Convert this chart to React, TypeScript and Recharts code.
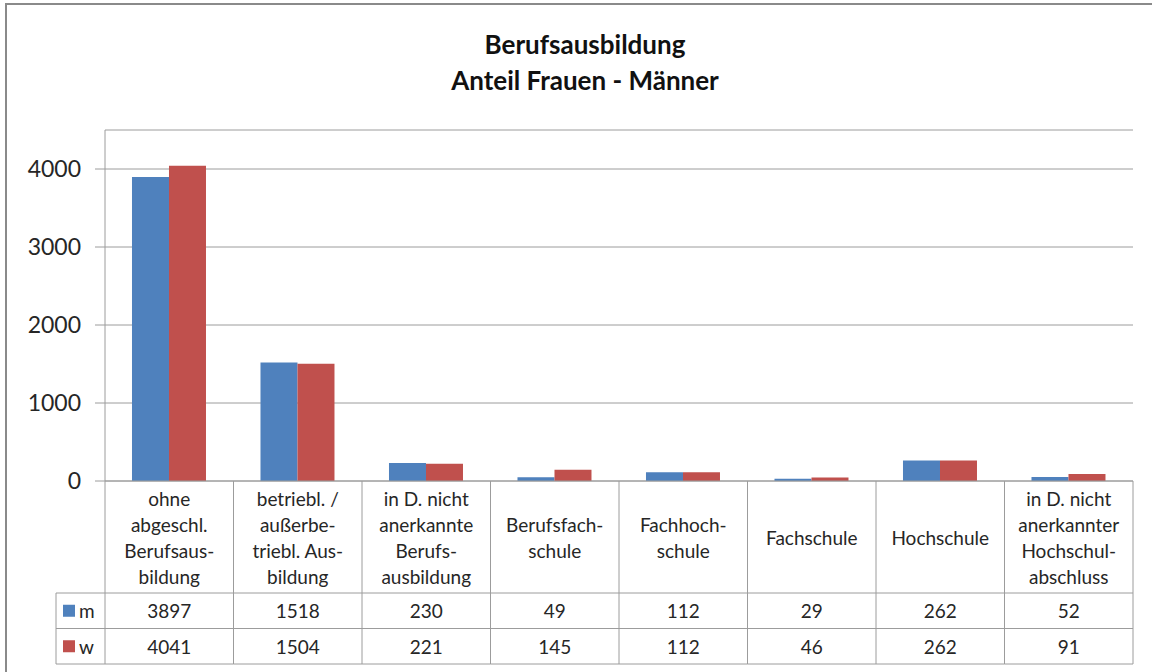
import { BarChart, Bar, XAxis, YAxis, CartesianGrid } from "recharts";

const categoryLines: string[][] = [
  ["ohne", "abgeschl.", "Berufsaus-", "bildung"],
  ["betriebl. /", "außerbe-", "triebl. Aus-", "bildung"],
  ["in D. nicht", "anerkannte", "Berufs-", "ausbildung"],
  ["Berufsfach-", "schule"],
  ["Fachhoch-", "schule"],
  ["Fachschule"],
  ["Hochschule"],
  ["in D. nicht", "anerkannter", "Hochschul-", "abschluss"],
];
const men = [3897, 1518, 230, 49, 112, 29, 262, 52];
const women = [4041, 1504, 221, 145, 112, 46, 262, 91];
const yTicks = [0, 1000, 2000, 3000, 4000];
const seriesNames = ["m", "w"];
const titleLines = ["Berufsausbildung", "Anteil Frauen - Männer"];

const data = categoryLines.map((lines, i) => ({
  name: lines.join(" "),
  m: men[i],
  w: women[i],
}));

const W = 1152;
const H = 672;
const PLOT_LEFT = 105;
const PLOT_RIGHT = 1133;
const BAND = (PLOT_RIGHT - PLOT_LEFT) / categoryLines.length;
const HEADER_H = 112;
const ROW_H = 35.5;
const LEGEND_LEFT = 56;

const FONT = "Lato, 'Open Sans', sans-serif";
const LINE = "#9c9c9c";
const TEXT = "#262626";
const BLUE = "#4F81BD";
const RED = "#C0504D";
const TABLE_FS = 19;

function TableTick(props: any) {
  const { x, y, payload } = props;
  const i = payload.index as number;
  const left = x - BAND / 2;
  const right = x + BAND / 2;
  const headBottom = y + HEADER_H;
  const r1 = headBottom + ROW_H;
  const r2 = r1 + ROW_H;
  const lines = categoryLines[i];
  const lh = 26;
  const y0 = y + HEADER_H / 2 - ((lines.length - 1) * lh) / 2;
  const last = i === categoryLines.length - 1;

  return (
    <g fontFamily={FONT}>
      <line x1={left} y1={y} x2={left} y2={r2} stroke={LINE} />
      {last && <line x1={right} y1={y} x2={right} y2={r2} stroke={LINE} />}
      <line x1={left} y1={headBottom} x2={right} y2={headBottom} stroke={LINE} />
      <line x1={left} y1={r1} x2={right} y2={r1} stroke={LINE} />
      <line x1={left} y1={r2} x2={right} y2={r2} stroke={LINE} />
      {lines.map((t, k) => (
        <text
          key={k}
          x={x}
          y={y0 + k * lh}
          textAnchor="middle"
          dominantBaseline="central"
          fontSize={TABLE_FS}
          fill={TEXT}
        >
          {t}
        </text>
      ))}
      <text x={x} y={headBottom + ROW_H / 2} textAnchor="middle" dominantBaseline="central" fontSize={TABLE_FS} fill={TEXT}>
        {men[i]}
      </text>
      <text x={x} y={r1 + ROW_H / 2} textAnchor="middle" dominantBaseline="central" fontSize={TABLE_FS} fill={TEXT}>
        {women[i]}
      </text>
      {i === 0 && (
        <g>
          <line x1={LEGEND_LEFT} y1={headBottom} x2={left} y2={headBottom} stroke={LINE} />
          <line x1={LEGEND_LEFT} y1={r1} x2={left} y2={r1} stroke={LINE} />
          <line x1={LEGEND_LEFT} y1={r2} x2={left} y2={r2} stroke={LINE} />
          <line x1={LEGEND_LEFT} y1={headBottom} x2={LEGEND_LEFT} y2={r2} stroke={LINE} />
          {[BLUE, RED].map((c, k) => (
            <g key={k}>
              <rect x={63} y={headBottom + k * ROW_H + ROW_H / 2 - 6} width={12} height={12} fill={c} />
              <text
                x={79}
                y={headBottom + k * ROW_H + ROW_H / 2}
                dominantBaseline="central"
                fontSize={TABLE_FS}
                fill={TEXT}
              >
                {seriesNames[k]}
              </text>
            </g>
          ))}
        </g>
      )}
    </g>
  );
}

export default function App() {
  return (
    <div
      style={{
        position: "absolute",
        left: 0,
        top: 0,
        width: W,
        height: H,
        overflow: "hidden",
        background: "#fff",
        fontFamily: FONT,
      }}
    >
      <div
        style={{
          position: "absolute",
          left: 5,
          top: 3,
          width: W + 20,
          height: H + 20,
          border: "2px solid #8a8a8a",
        }}
      />
      <div
        style={{
          position: "absolute",
          left: 0,
          width: 1170,
          top: 26,
          textAlign: "center",
          fontWeight: 700,
          fontSize: 26,
          lineHeight: "36px",
          color: "#111",
        }}
      >
        {titleLines.map((t) => (
          <div key={t}>{t}</div>
        ))}
      </div>
      <div style={{ position: "absolute", left: 0, top: 0 }}>
        <BarChart
          width={W}
          height={H}
          data={data}
          margin={{ top: 130, right: W - PLOT_RIGHT, bottom: 8, left: PLOT_LEFT - 60 }}
          barCategoryGap="21%"
          barGap={0}
        >
          <CartesianGrid vertical={false} stroke={LINE} />
          <XAxis
            dataKey="name"
            height={183}
            interval={0}
            tickSize={0}
            tickMargin={0}
            tickLine={false}
            axisLine={{ stroke: LINE }}
            tick={<TableTick />}
          />
          <YAxis
            width={60}
            domain={[0, 4500]}
            ticks={yTicks}
            interval={0}
            tickSize={10}
            tickMargin={14}
            axisLine={{ stroke: LINE }}
            tickLine={{ stroke: LINE }}
            tick={{ fontSize: 23, fill: TEXT, fontFamily: FONT }}
          />
          <Bar dataKey="m" fill={BLUE} isAnimationActive={false} />
          <Bar dataKey="w" fill={RED} isAnimationActive={false} />
        </BarChart>
      </div>
    </div>
  );
}
